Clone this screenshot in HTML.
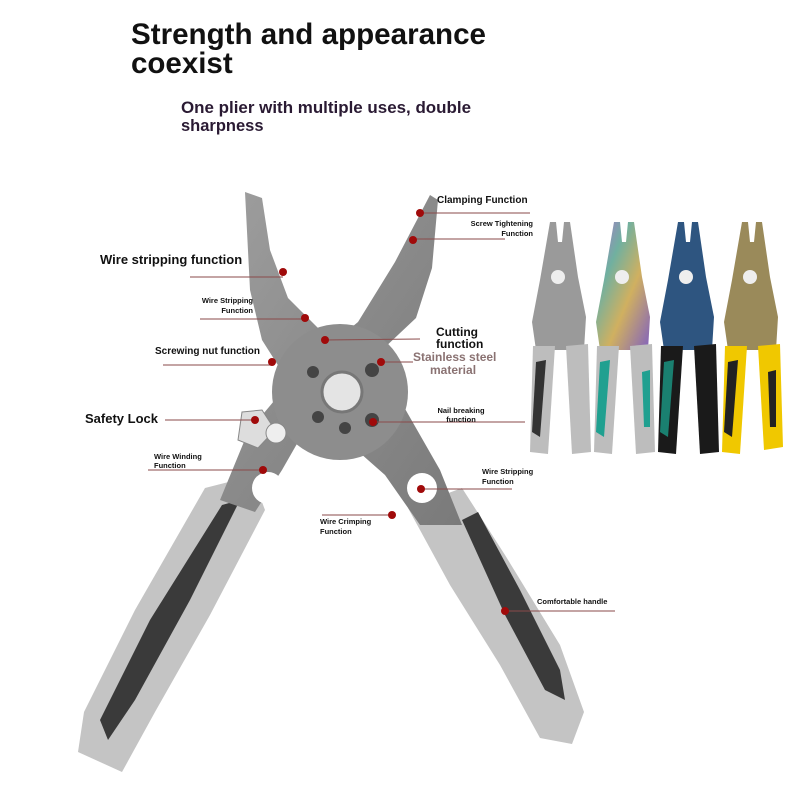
<!DOCTYPE html>
<html><head><meta charset="utf-8"><style>
html,body{margin:0;padding:0;background:#fff;}
svg{display:block;}
text{font-family:"Liberation Sans",sans-serif;font-weight:bold;fill:#111;}
</style></head><body>
<svg width="800" height="800" viewBox="0 0 800 800" xmlns="http://www.w3.org/2000/svg">
<defs>
<linearGradient id="steel" x1="0" y1="0" x2="1" y2="1"><stop offset="0" stop-color="#9c9c9c"/><stop offset="0.5" stop-color="#8a8a8a"/><stop offset="1" stop-color="#7a7a7a"/></linearGradient>
<linearGradient id="rainbow" x1="0" y1="0" x2="1" y2="1"><stop offset="0" stop-color="#b070d0"/><stop offset="0.3" stop-color="#70b0a0"/><stop offset="0.6" stop-color="#d0b060"/><stop offset="1" stop-color="#8060c0"/></linearGradient>
<g id="sp-head"><path d="M22,0 L28,0 L30,20 L34,20 L36,0 L42,0 L50,55 L58,95 L56,128 L8,128 L4,100 L12,58 Z"/></g>
</defs>
<text x="131" y="44" font-size="29.5" textLength="355" lengthAdjust="spacingAndGlyphs">Strength and appearance</text>
<text x="131" y="73" font-size="29.5">coexist</text>
<text x="181" y="113" font-size="16.5" style="fill:#2a1a33" textLength="290" lengthAdjust="spacingAndGlyphs">One plier with multiple uses, double</text>
<text x="181" y="131" font-size="16.5" style="fill:#2a1a33">sharpness</text>

<!-- handles -->
<path d="M205,488 L252,476 L265,510 L210,615 L155,712 L122,772 L78,752 L84,712 L135,610 Z" fill="#c4c4c4"/>
<path d="M222,505 L240,500 L190,600 L135,700 L108,740 L100,720 L150,620 Z" fill="#3a3a3a"/>
<path d="M408,508 L462,488 L505,555 L560,645 L584,712 L572,744 L540,738 L500,665 L450,585 Z" fill="#c4c4c4"/>
<path d="M462,520 L478,512 L520,590 L560,670 L565,700 L545,690 L505,615 Z" fill="#3a3a3a"/>
<!-- jaws -->
<path d="M245,192 L262,198 L270,250 L288,298 L320,330 L400,400 L440,470 L462,525 L420,525 L385,475 L300,400 L262,340 L250,290 Z" fill="url(#steel)"/>
<path d="M430,195 L438,200 L432,268 L416,318 L382,350 L322,400 L282,470 L255,512 L220,500 L248,432 L300,370 L358,322 L395,262 Z" fill="url(#steel)"/>
<circle cx="340" cy="392" r="68" fill="#8d8d8d"/>
<circle cx="342" cy="392" r="20" fill="#e4e4e4" stroke="#777" stroke-width="3"/>
<circle cx="313" cy="372" r="6" fill="#444"/><circle cx="372" cy="370" r="7" fill="#444"/>
<circle cx="318" cy="417" r="6" fill="#444"/><circle cx="345" cy="428" r="6" fill="#444"/><circle cx="372" cy="420" r="7" fill="#444"/>
<circle cx="268" cy="488" r="16" fill="#fff"/><circle cx="422" cy="488" r="15" fill="#fff"/>
<path d="M242,412 L262,410 L275,430 L258,448 L238,440 Z" fill="#ddd" stroke="#888"/>
<circle cx="276" cy="433" r="10" fill="#eee" stroke="#888"/>

<g stroke="#8a4a4a" stroke-width="1" fill="none">
<line x1="422" y1="213" x2="530" y2="213"/>
<line x1="413" y1="239" x2="505" y2="239"/>
<line x1="190" y1="277" x2="283" y2="277"/>
<line x1="200" y1="319" x2="305" y2="319"/>
<line x1="163" y1="365" x2="272" y2="365"/>
<line x1="325" y1="340" x2="420" y2="339"/>
<line x1="381" y1="362" x2="413" y2="362"/>
<line x1="165" y1="420" x2="255" y2="420"/>
<line x1="373" y1="422" x2="525" y2="422"/>
<line x1="148" y1="470" x2="263" y2="470"/>
<line x1="421" y1="489" x2="512" y2="489"/>
<line x1="322" y1="515" x2="392" y2="515"/>
<line x1="505" y1="611" x2="615" y2="611"/>
</g>
<g fill="#a00a0a">
<circle cx="420" cy="213" r="4"/><circle cx="413" cy="240" r="4"/><circle cx="283" cy="272" r="4"/>
<circle cx="305" cy="318" r="4"/><circle cx="272" cy="362" r="4"/><circle cx="325" cy="340" r="4"/>
<circle cx="381" cy="362" r="4"/><circle cx="255" cy="420" r="4"/><circle cx="373" cy="422" r="4"/>
<circle cx="263" cy="470" r="4"/><circle cx="421" cy="489" r="4"/><circle cx="392" cy="515" r="4"/>
<circle cx="505" cy="611" r="4"/>
</g>

<text x="437" y="203" font-size="10">Clamping Function</text>
<text x="533" y="226" font-size="7.5" text-anchor="end">Screw Tightening</text>
<text x="533" y="236" font-size="7.5" text-anchor="end">Function</text>
<text x="100" y="264" font-size="13">Wire stripping function</text>
<text x="253" y="303" font-size="7.5" text-anchor="end">Wire Stripping</text>
<text x="253" y="313" font-size="7.5" text-anchor="end">Function</text>
<text x="155" y="354" font-size="10">Screwing nut function</text>
<text x="436" y="336" font-size="12">Cutting</text>
<text x="436" y="348" font-size="12">function</text>
<text x="413" y="361" font-size="12" style="fill:#8a7272">Stainless steel</text>
<text x="430" y="374" font-size="12" style="fill:#8a7272">material</text>
<text x="85" y="423" font-size="13">Safety Lock</text>
<text x="461" y="413" font-size="7.5" text-anchor="middle">Nail breaking</text>
<text x="461" y="422" font-size="7.5" text-anchor="middle">function</text>
<text x="154" y="459" font-size="7.5">Wire Winding</text>
<text x="154" y="468" font-size="7.5">Function</text>
<text x="482" y="474" font-size="7.5">Wire Stripping</text>
<text x="482" y="484" font-size="7.5">Function</text>
<text x="320" y="524" font-size="7.5">Wire Crimping</text>
<text x="320" y="534" font-size="7.5">Function</text>
<text x="537" y="604" font-size="7.5">Comfortable handle</text>

<g transform="translate(528,222)">
<use href="#sp-head" fill="#9a9a9a"/>
<path d="M5,124 L27,124 L20,232 L2,230 Z" fill="#bdbdbd"/><path d="M8,140 L18,138 L12,215 L4,210 Z" fill="#333"/>
<path d="M38,124 L60,122 L63,230 L44,232 Z" fill="#bdbdbd"/>
<circle cx="30" cy="55" r="7" fill="#eee"/>
</g>
<g transform="translate(592,222)">
<use href="#sp-head" fill="url(#rainbow)"/>
<path d="M5,124 L27,124 L20,232 L2,230 Z" fill="#bdbdbd"/><path d="M8,140 L18,138 L12,215 L4,210 Z" fill="#20a090"/>
<path d="M38,124 L60,122 L63,230 L44,232 Z" fill="#bdbdbd"/><path d="M50,150 L58,148 L58,205 L52,205 Z" fill="#20a090"/>
<circle cx="30" cy="55" r="7" fill="#eee"/>
</g>
<g transform="translate(656,222)">
<use href="#sp-head" fill="#2e5580"/>
<path d="M5,124 L27,124 L20,232 L2,230 Z" fill="#1a1a1a"/><path d="M8,140 L18,138 L12,215 L4,210 Z" fill="#1a8070"/>
<path d="M38,124 L60,122 L63,230 L44,232 Z" fill="#1a1a1a"/>
<circle cx="30" cy="55" r="7" fill="#eee"/>
</g>
<g transform="translate(720,222)">
<use href="#sp-head" fill="#9a8a5a"/>
<path d="M5,124 L27,124 L20,232 L2,230 Z" fill="#f0c800"/><path d="M8,140 L18,138 L12,215 L4,210 Z" fill="#222"/>
<path d="M38,124 L60,122 L63,225 L44,228 Z" fill="#f0c800"/><path d="M48,150 L56,148 L56,205 L50,205 Z" fill="#222"/>
<circle cx="30" cy="55" r="7" fill="#eee"/>
</g>
</svg>
</body></html>
